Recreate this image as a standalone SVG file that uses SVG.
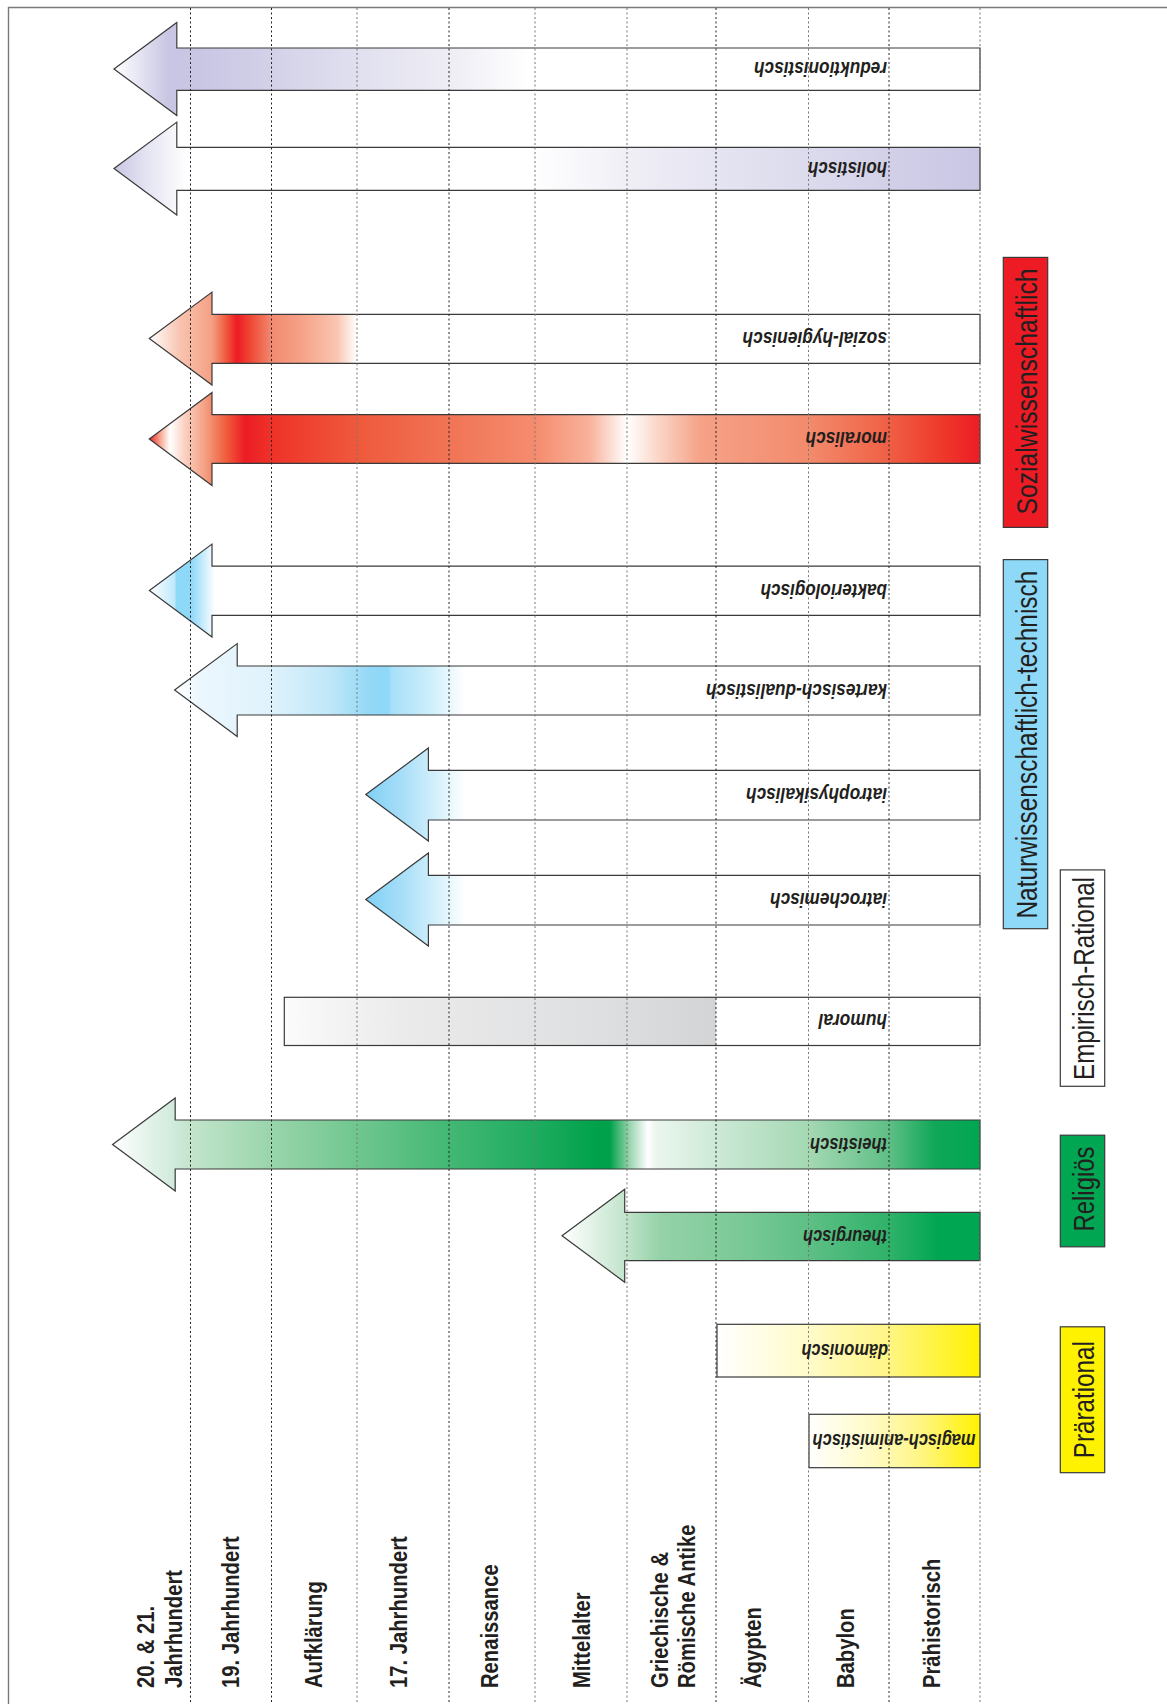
<svg xmlns="http://www.w3.org/2000/svg" width="1167" height="1704" viewBox="0 0 1167 1704">
<defs>
<style>
.arrow{stroke:#3a3a3a;stroke-width:1.2;stroke-linejoin:miter}
.lbl{font-family:"Liberation Sans",Arial,sans-serif;font-weight:bold;font-style:italic;font-size:19.5px;fill:#231f20}
.cat{font-family:"Liberation Sans",Arial,sans-serif;font-size:30px;fill:#231f20}
.catbox{stroke:#3a3a3a;stroke-width:1.2}
.era{font-family:"Liberation Sans",Arial,sans-serif;font-weight:bold;font-size:23px;fill:#231f20}
.gridD{stroke:#222;stroke-width:1;stroke-dasharray:2 2.5;fill:none}
.gridL{stroke:#777;stroke-width:1;stroke-dasharray:2 2.5;fill:none}
</style>
<linearGradient id="gRed1" gradientUnits="userSpaceOnUse" x1="0" y1="0" x2="1000" y2="0">
<stop offset="0.114" stop-color="#ffffff"/>
<stop offset="0.168" stop-color="#c8c6e3"/>
<stop offset="0.200" stop-color="#c8c6e3"/>
<stop offset="0.270" stop-color="#d3d1e8"/>
<stop offset="0.360" stop-color="#e1e0ef"/>
<stop offset="0.450" stop-color="#eeedf5"/>
<stop offset="0.530" stop-color="#ffffff"/>
</linearGradient>
<linearGradient id="gHol" gradientUnits="userSpaceOnUse" x1="0" y1="0" x2="1000" y2="0">
<stop offset="0.114" stop-color="#c8c6e3"/>
<stop offset="0.145" stop-color="#e3e2f1"/>
<stop offset="0.187" stop-color="#ffffff"/>
<stop offset="0.530" stop-color="#ffffff"/>
<stop offset="0.627" stop-color="#f0eff6"/>
<stop offset="0.716" stop-color="#e5e4f1"/>
<stop offset="0.809" stop-color="#dcdbed"/>
<stop offset="0.889" stop-color="#d2d0e8"/>
<stop offset="0.980" stop-color="#c8c6e3"/>
</linearGradient>
<linearGradient id="gSoz" gradientUnits="userSpaceOnUse" x1="0" y1="0" x2="1000" y2="0">
<stop offset="0.149" stop-color="#ffffff"/>
<stop offset="0.180" stop-color="#f8c4b0"/>
<stop offset="0.212" stop-color="#f4a083"/>
<stop offset="0.226" stop-color="#f05a3e"/>
<stop offset="0.237" stop-color="#ed1c24"/>
<stop offset="0.250" stop-color="#ef4633"/>
<stop offset="0.272" stop-color="#f28a70"/>
<stop offset="0.306" stop-color="#f6a68c"/>
<stop offset="0.337" stop-color="#fac5b1"/>
<stop offset="0.357" stop-color="#ffffff"/>
</linearGradient>
<linearGradient id="gMor" gradientUnits="userSpaceOnUse" x1="0" y1="0" x2="1000" y2="0">
<stop offset="0.149" stop-color="#ed1c24"/>
<stop offset="0.160" stop-color="#f7a58e"/>
<stop offset="0.170" stop-color="#ffffff"/>
<stop offset="0.185" stop-color="#fad0c1"/>
<stop offset="0.205" stop-color="#f4a083"/>
<stop offset="0.225" stop-color="#f1603f"/>
<stop offset="0.245" stop-color="#ed1c24"/>
<stop offset="0.270" stop-color="#ee3128"/>
<stop offset="0.360" stop-color="#ef5a3c"/>
<stop offset="0.450" stop-color="#f17456"/>
<stop offset="0.536" stop-color="#f58c6e"/>
<stop offset="0.590" stop-color="#f8b29b"/>
<stop offset="0.627" stop-color="#ffffff"/>
<stop offset="0.660" stop-color="#fbd3c4"/>
<stop offset="0.700" stop-color="#f5a288"/>
<stop offset="0.810" stop-color="#f38a6c"/>
<stop offset="0.880" stop-color="#f06549"/>
<stop offset="0.940" stop-color="#ee3a2b"/>
<stop offset="0.980" stop-color="#ed1c24"/>
</linearGradient>
<linearGradient id="gBak" gradientUnits="userSpaceOnUse" x1="0" y1="0" x2="1000" y2="0">
<stop offset="0.149" stop-color="#ffffff"/>
<stop offset="0.175" stop-color="#bfe8fa"/>
<stop offset="0.176" stop-color="#8ed8f8"/>
<stop offset="0.191" stop-color="#8ed8f8"/>
<stop offset="0.215" stop-color="#ffffff"/>
</linearGradient>
<linearGradient id="gKar" gradientUnits="userSpaceOnUse" x1="0" y1="0" x2="1000" y2="0">
<stop offset="0.175" stop-color="#ffffff"/>
<stop offset="0.200" stop-color="#ebf7fd"/>
<stop offset="0.272" stop-color="#dff2fc"/>
<stop offset="0.330" stop-color="#c0e7f9"/>
<stop offset="0.370" stop-color="#93d8f6"/>
<stop offset="0.388" stop-color="#8ed8f8"/>
<stop offset="0.392" stop-color="#a8e0f9"/>
<stop offset="0.430" stop-color="#cdeefb"/>
<stop offset="0.465" stop-color="#ffffff"/>
</linearGradient>
<linearGradient id="gIat" gradientUnits="userSpaceOnUse" x1="0" y1="0" x2="1000" y2="0">
<stop offset="0.366" stop-color="#7fd0f4"/>
<stop offset="0.400" stop-color="#a5ddf8"/>
<stop offset="0.432" stop-color="#cfeefb"/>
<stop offset="0.466" stop-color="#ffffff"/>
</linearGradient>
<linearGradient id="gHum" gradientUnits="userSpaceOnUse" x1="0" y1="0" x2="1000" y2="0">
<stop offset="0.284" stop-color="#fbfbfb"/>
<stop offset="0.400" stop-color="#ebebec"/>
<stop offset="0.600" stop-color="#dedfe0"/>
<stop offset="0.716" stop-color="#d3d4d6"/>
<stop offset="0.716" stop-color="#ffffff"/>
<stop offset="0.980" stop-color="#ffffff"/>
</linearGradient>
<linearGradient id="gThe" gradientUnits="userSpaceOnUse" x1="0" y1="0" x2="1000" y2="0">
<stop offset="0.112" stop-color="#ffffff"/>
<stop offset="0.175" stop-color="#cfeada"/>
<stop offset="0.190" stop-color="#c3e5cc"/>
<stop offset="0.274" stop-color="#98d4aa"/>
<stop offset="0.360" stop-color="#6ec68e"/>
<stop offset="0.455" stop-color="#40b773"/>
<stop offset="0.541" stop-color="#1cab5e"/>
<stop offset="0.598" stop-color="#00a14b"/>
<stop offset="0.610" stop-color="#00a14b"/>
<stop offset="0.630" stop-color="#9cd5b0"/>
<stop offset="0.648" stop-color="#ffffff"/>
<stop offset="0.656" stop-color="#ebf6ee"/>
<stop offset="0.716" stop-color="#cde9d6"/>
<stop offset="0.809" stop-color="#a4d8b3"/>
<stop offset="0.889" stop-color="#5fbf86"/>
<stop offset="0.935" stop-color="#10a758"/>
<stop offset="0.980" stop-color="#00a651"/>
</linearGradient>
<linearGradient id="gTheu" gradientUnits="userSpaceOnUse" x1="0" y1="0" x2="1000" y2="0">
<stop offset="0.562" stop-color="#ffffff"/>
<stop offset="0.625" stop-color="#c2e4cc"/>
<stop offset="0.660" stop-color="#95d2a8"/>
<stop offset="0.725" stop-color="#80cb9a"/>
<stop offset="0.809" stop-color="#5ebf85"/>
<stop offset="0.889" stop-color="#2fb26a"/>
<stop offset="0.940" stop-color="#00a651"/>
<stop offset="0.980" stop-color="#00a651"/>
</linearGradient>
<linearGradient id="gYel" x1="0" y1="0" x2="1" y2="0">
<stop offset="0" stop-color="#ffffff"/>
<stop offset="0.35" stop-color="#fffbc8"/>
<stop offset="0.65" stop-color="#fff585"/>
<stop offset="1" stop-color="#fff200"/>
</linearGradient>
</defs>

<rect x="0" y="0" width="1167" height="1704" fill="#ffffff"/>

<!-- frame -->
<path d="M8.5,1704 V7.5 H1167" fill="none" stroke="#7a7a7a" stroke-width="1.4"/>

<!-- arrows / nodes -->
<g id="reduktionistisch">
<path class="arrow" fill="url(#gRed1)" d="M114,69 L176.8,22.5 L176.8,48 L980,48 L980,90.3 L176.8,90.3 L176.8,115.5 Z"/>
</g>
<g id="holistisch">
<path class="arrow" fill="url(#gHol)" d="M114,168.6 L176.8,122.1 L176.8,147.3 L980,147.3 L980,190.3 L176.8,190.3 L176.8,215.1 Z"/>
</g>
<g id="sozial-hygienisch">
<path class="arrow" fill="url(#gSoz)" d="M149.3,338.6 L212,292.1 L212,314.3 L980,314.3 L980,363.3 L212,363.3 L212,385.1 Z"/>
</g>
<g id="moralisch">
<path class="arrow" fill="url(#gMor)" d="M149.3,439 L212,392.5 L212,414.7 L980,414.7 L980,463.3 L212,463.3 L212,485.5 Z"/>
</g>
<g id="bakteriologisch">
<path class="arrow" fill="url(#gBak)" d="M149.4,590.6 L212,544.1 L212,566.2 L980,566.2 L980,615.4 L212,615.4 L212,637.1 Z"/>
</g>
<g id="kartesisch-dualistisch">
<path class="arrow" fill="url(#gKar)" d="M174.6,690.1 L237.2,643.6 L237.2,666 L980,666 L980,715 L237.2,715 L237.2,736.6 Z"/>
</g>
<g id="iatrophysikalisch">
<path class="arrow" fill="url(#gIat)" d="M365.8,794.5 L428.4,748 L428.4,770.4 L980,770.4 L980,820 L428.4,820 L428.4,841 Z"/>
</g>
<g id="iatrochemisch">
<path class="arrow" fill="url(#gIat)" d="M365.8,899.5 L428.4,853 L428.4,875.4 L980,875.4 L980,925 L428.4,925 L428.4,946 Z"/>
</g>
<g id="humoral">
<rect class="arrow" fill="url(#gHum)" x="284.3" y="997.3" width="695.7" height="48.2"/>
</g>
<g id="theistisch">
<path class="arrow" fill="url(#gThe)" d="M112.6,1144.5 L175.2,1098 L175.2,1120 L980,1120 L980,1169 L175.2,1169 L175.2,1191 Z"/>
</g>
<g id="theurgisch">
<path class="arrow" fill="url(#gTheu)" d="M562,1235.7 L624.7,1189.2 L624.7,1212.3 L980,1212.3 L980,1260.7 L624.7,1260.7 L624.7,1282.2 Z"/>
</g>
<g id="daemonisch">
<rect class="arrow" fill="url(#gYel)" x="717" y="1324.3" width="263" height="52.7"/>
</g>
<g id="magisch-animistisch">
<rect class="arrow" fill="url(#gYel)" x="809" y="1414.3" width="171" height="53.4"/>
</g>

<!-- grid of epochs -->
<g id="grid">
<line class="gridD" x1="190.5" y1="8" x2="190.5" y2="1704"/>
<line class="gridD" x1="271.5" y1="8" x2="271.5" y2="1704"/>
<line class="gridL" x1="357" y1="8" x2="357" y2="1704"/>
<line class="gridD" x1="449" y1="8" x2="449" y2="1704"/>
<line class="gridL" x1="535" y1="8" x2="535" y2="1704"/>
<line class="gridL" x1="627" y1="8" x2="627" y2="1704"/>
<line class="gridD" x1="716" y1="8" x2="716" y2="1704"/>
<line class="gridL" x1="808.5" y1="8" x2="808.5" y2="1704"/>
<line class="gridD" x1="889" y1="8" x2="889" y2="1704"/>
<line class="gridL" x1="980" y1="8" x2="980" y2="1704"/>
</g>

<!-- arrow labels (upside down) -->
<g id="arrow-labels">
<text class="lbl" transform="translate(887,62.2) rotate(180)" textLength="133" lengthAdjust="spacingAndGlyphs">reduktionistisch</text>
<text class="lbl" transform="translate(887,161.8) rotate(180)" textLength="79" lengthAdjust="spacingAndGlyphs">holistisch</text>
<text class="lbl" transform="translate(887,331.8) rotate(180)" textLength="144.5" lengthAdjust="spacingAndGlyphs">sozial-hygienisch</text>
<text class="lbl" transform="translate(887,432) rotate(180)" textLength="81.5" lengthAdjust="spacingAndGlyphs">moralisch</text>
<text class="lbl" transform="translate(887,583.8) rotate(180)" textLength="126.5" lengthAdjust="spacingAndGlyphs">bakteriologisch</text>
<text class="lbl" transform="translate(887,683.5) rotate(180)" textLength="181" lengthAdjust="spacingAndGlyphs">kartesisch-dualistisch</text>
<text class="lbl" transform="translate(887,788.2) rotate(180)" textLength="141" lengthAdjust="spacingAndGlyphs">iatrophysikalisch</text>
<text class="lbl" transform="translate(887,893.2) rotate(180)" textLength="117" lengthAdjust="spacingAndGlyphs">iatrochemisch</text>
<text class="lbl" transform="translate(887,1014.4) rotate(180)" textLength="68.5" lengthAdjust="spacingAndGlyphs">humoral</text>
<text class="lbl" transform="translate(887,1137.5) rotate(180)" textLength="77" lengthAdjust="spacingAndGlyphs">theistisch</text>
<text class="lbl" transform="translate(887,1229.5) rotate(180)" textLength="84" lengthAdjust="spacingAndGlyphs">theurgisch</text>
<text class="lbl" transform="translate(888,1343.6) rotate(180)" textLength="86.5" lengthAdjust="spacingAndGlyphs">dämonisch</text>
<text class="lbl" transform="translate(975.5,1434) rotate(180)" textLength="163" lengthAdjust="spacingAndGlyphs">magisch-animistisch</text>
</g>

<!-- category boxes -->
<g id="cat-sozial">
<rect class="catbox" fill="#ed1c24" x="1003.3" y="257.4" width="44.4" height="270"/>
<text class="cat" transform="translate(1036.5,391.5) rotate(-90)" text-anchor="middle" textLength="246" lengthAdjust="spacingAndGlyphs">Sozialwissenschaftlich</text>
</g>
<g id="cat-natur">
<rect class="catbox" fill="#8ed8f8" x="1003.3" y="559.6" width="44.4" height="369.1"/>
<text class="cat" transform="translate(1036.5,744.6) rotate(-90)" text-anchor="middle" textLength="348" lengthAdjust="spacingAndGlyphs">Naturwissenschaftlich-technisch</text>
</g>
<g id="cat-empirisch">
<rect class="catbox" fill="#ffffff" x="1060.3" y="869.9" width="44.4" height="216.4"/>
<text class="cat" transform="translate(1093.5,978.5) rotate(-90)" text-anchor="middle" textLength="203" lengthAdjust="spacingAndGlyphs">Empirisch-Rational</text>
</g>
<g id="cat-religioes">
<rect class="catbox" fill="#00a651" x="1060.3" y="1135.2" width="44.4" height="111.6"/>
<text class="cat" transform="translate(1093.5,1189) rotate(-90)" text-anchor="middle" textLength="85" lengthAdjust="spacingAndGlyphs">Religiös</text>
</g>
<g id="cat-praerational">
<rect class="catbox" fill="#fff200" x="1060.3" y="1326.8" width="44.4" height="145.9"/>
<text class="cat" transform="translate(1093.5,1399.7) rotate(-90)" text-anchor="middle" textLength="117" lengthAdjust="spacingAndGlyphs">Prärational</text>
</g>

<!-- epoch labels -->
<g id="epochs">
<text class="era" transform="translate(153.5,1688) rotate(-90) scale(0.88,1)">20. &amp; 21.</text>
<text class="era" transform="translate(181.5,1688) rotate(-90) scale(0.88,1)">Jahrhundert</text>
<text class="era" transform="translate(238.5,1688) rotate(-90) scale(0.88,1)">19. Jahrhundert</text>
<text class="era" transform="translate(322,1688) rotate(-90) scale(0.88,1)">Aufklärung</text>
<text class="era" transform="translate(407,1688) rotate(-90) scale(0.88,1)">17. Jahrhundert</text>
<text class="era" transform="translate(498,1688) rotate(-90) scale(0.88,1)">Renaissance</text>
<text class="era" transform="translate(590,1688) rotate(-90) scale(0.88,1)">Mittelalter</text>
<text class="era" transform="translate(668,1688) rotate(-90) scale(0.88,1)">Griechische &amp;</text>
<text class="era" transform="translate(695,1688) rotate(-90) scale(0.88,1)">Römische Antike</text>
<text class="era" transform="translate(761,1688) rotate(-90) scale(0.88,1)">Ägypten</text>
<text class="era" transform="translate(854,1688) rotate(-90) scale(0.88,1)">Babylon</text>
<text class="era" transform="translate(940,1688) rotate(-90) scale(0.88,1)">Prähistorisch</text>
</g>
</svg>
